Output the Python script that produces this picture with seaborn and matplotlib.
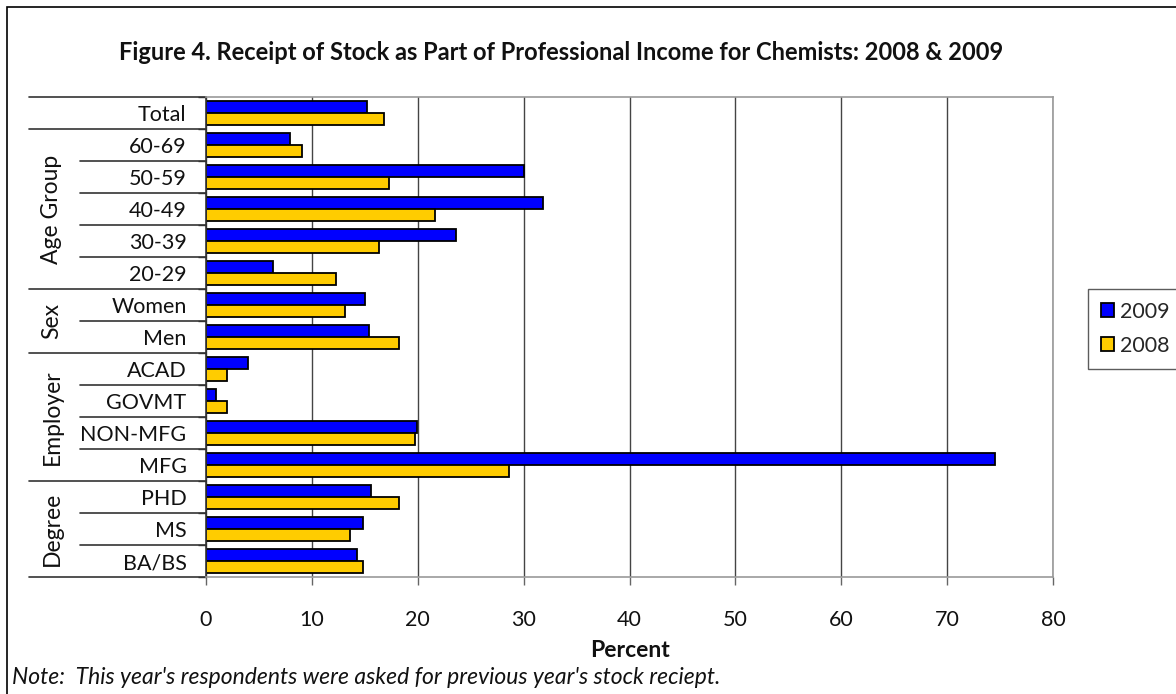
import matplotlib
matplotlib.use("Agg")
import matplotlib.pyplot as plt
import matplotlib.transforms as mtransforms
import seaborn as sns
import pandas as pd

categories = ["Total", "60-69", "50-59", "40-49", "30-39", "20-29",
              "Women", "Men", "ACAD", "GOVMT", "NON-MFG", "MFG",
              "PHD", "MS", "BA/BS"]
values_2009 = [15.2, 7.9, 30.0, 31.8, 23.6, 6.3, 15.0, 15.4, 4.0, 0.9, 19.9, 74.5, 15.6, 14.8, 14.3]
values_2008 = [16.8, 9.1, 17.3, 21.6, 16.3, 12.3, 13.1, 18.2, 2.0, 2.0, 19.7, 28.6, 18.2, 13.6, 14.8]
years = ["2009", "2008"]
groups = [("Age Group", 1, 5), ("Sex", 6, 7), ("Employer", 8, 11), ("Degree", 12, 14)]
xticks = [0, 10, 20, 30, 40, 50, 60, 70, 80]
title = "Figure 4. Receipt of Stock as Part of Professional Income for Chemists: 2008 & 2009"
note = "Note:  This year's respondents were asked for previous year's stock reciept."

df = pd.DataFrame({
    "category": categories * 2,
    "year": [years[0]] * len(categories) + [years[1]] * len(categories),
    "value": values_2009 + values_2008,
})

sns.set_theme(style="white")
plt.rcParams["font.family"] = ["Lato", "DejaVu Sans"]

W, H = 1176, 694
fig = plt.figure(figsize=(W / 100, H / 100), dpi=100)
L, R, T, B = 206, 1053, 97, 577
ax = fig.add_axes([L / W, 1 - B / H, (R - L) / W, (B - T) / H])

sns.barplot(data=df, y="category", x="value", hue="year", order=categories,
            hue_order=years, palette={"2009": "#0000FF", "2008": "#FFCC00"},
            edgecolor="black", linewidth=1.3, width=0.72, orient="h", ax=ax,
            saturation=1)

FS = 15.5
ax.set_xlim(0, 80)
ax.set_ylim(len(categories) - 0.5, -0.5)
ax.set_xticks(xticks)
ax.set_xticklabels([str(t) for t in xticks], fontsize=FS, color="#111111")
ax.tick_params(axis="x", direction="out", length=6, width=1, color="#666666", pad=18, bottom=True)
ax.tick_params(axis="y", length=0, pad=14, labelsize=FS, labelcolor="#111111")
ax.set_yticks(range(len(categories)))
ax.set_yticks([i + 0.5 for i in range(-1, len(categories))], minor=True)
ax.tick_params(axis="y", which="minor", direction="out", length=6, width=1, color="#333333", left=True)
ax.set_ylabel("")
ax.set_xlabel("Percent", fontsize=16.5, fontweight="bold", labelpad=7, color="#111111")
ax.xaxis.grid(True, color="#444444", linewidth=1)
ax.yaxis.grid(False)
ax.set_axisbelow(True)
for s in ["top", "right", "bottom"]:
    ax.spines[s].set_color("#999999")
    ax.spines[s].set_linewidth(1.2)
ax.spines["left"].set_color("#333333")
ax.spines["left"].set_linewidth(1.2)

# category separator lines in the left margin
trans = mtransforms.blended_transform_factory(ax.transAxes, ax.transData)
x_long = (29 - L) / (R - L)
x_short = (80 - L) / (R - L)
long_bounds = [-0.5, 0.5] + [g[2] + 0.5 for g in groups]
for i in range(-1, len(categories)):
    yb = i + 0.5
    x0 = x_long if yb in long_bounds else x_short
    ax.plot([x0, 0], [yb, yb], transform=trans, color="#333333", linewidth=1.2, clip_on=False)
for name, a, b in groups:
    ax.text((52 - L) / (R - L), (a + b) / 2, name, transform=trans, rotation=90,
            ha="center", va="center", fontsize=16.5, color="#111111")

leg = ax.legend(loc="upper left", bbox_to_anchor=((1088 - L) / (R - L), 1 - (289 - T) / (B - T)),
                frameon=True, fontsize=15.5, handlelength=0.6, handleheight=0.6,
                borderpad=0.6, labelspacing=0.65, handletextpad=0.3, borderaxespad=0)
leg.get_frame().set_edgecolor("#333333")
leg.get_frame().set_linewidth(1)
leg.get_frame().set_boxstyle("square", pad=0)

fig.text(561 / W, 1 - 52 / H, title, ha="center", va="center", fontsize=17, fontweight="bold", color="#111111")
fig.text(12 / W, 1 - 677 / H, note, ha="left", va="center", fontsize=16.5, style="italic", color="#111111")

border = plt.Rectangle((7 / W, -0.1), 1.2, 1 - 7 / H + 0.1, transform=fig.transFigure,
                       fill=False, edgecolor="black", linewidth=1.2)
fig.add_artist(border)

fig.savefig("out.png", dpi=100)
